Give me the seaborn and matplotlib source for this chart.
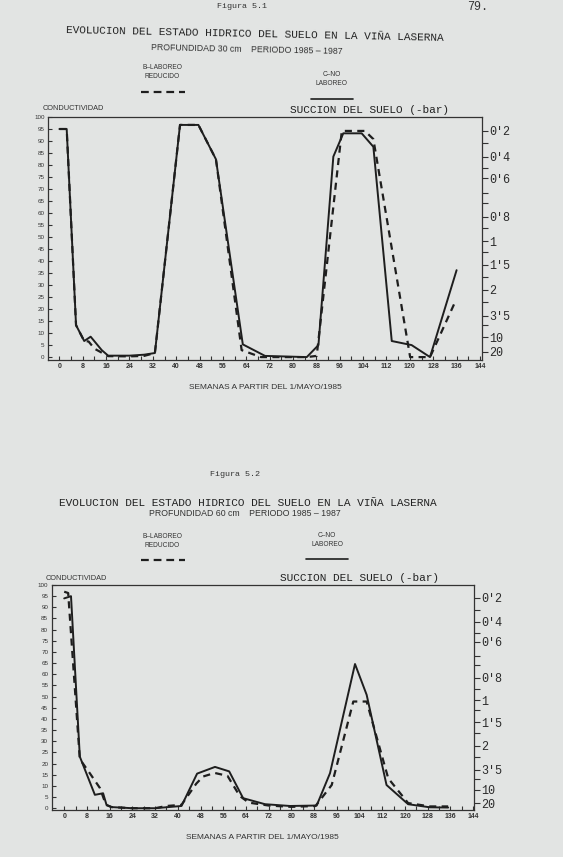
import matplotlib
matplotlib.use("Agg")
import matplotlib.pyplot as plt
from matplotlib.lines import Line2D
import seaborn as sns
import pandas as pd

# ---- data (conductividad, 0-100) ----
# Figura 5.1  profundidad 30 cm
weeks_b30 = [0, 2.5, 5.7, 8.5, 10.0, 12.0, 16.7, 24, 29, 32.7, 41.3, 47.6, 53.6, 62.4, 69.0,
             84.7, 88.1, 96.7, 104.6, 107.5, 120.1, 126.9, 135.5]
cond_b30 = [95, 95, 13.3, 6.7, 6.5, 3.5, 0.4, 0.3, 0.5, 1.7, 96.7, 96.7, 82.4, 2.9, 0.0,
            0.0, 0.5, 94.2, 94.2, 90.8, 0.0, 0.0, 23.0]
weeks_c30 = [0, 2.5, 5.7, 8.5, 10.7, 14.5, 16.7, 24, 29, 32.7, 41.3, 47.6, 53.6, 62.8, 70.4,
             84.7, 88.7, 93.8, 97.2, 103.5, 107.5, 113.8, 120.6, 126.9, 136]
cond_c30 = [95, 95, 13.3, 6.7, 8.5, 2.9, 0.6, 0.6, 1.0, 1.7, 96.7, 96.7, 82.4, 5.3, 0.5,
            0.0, 5.0, 83.5, 93.2, 93.2, 87.6, 6.7, 5.0, 0.0, 36.2]

# Figura 5.2  profundidad 60 cm
weeks_b60 = [0, 1.4, 5.5, 9.0, 12.6, 14.7, 16.7, 24, 32, 36, 41.3, 46.5, 48.9, 53, 57.5,
             61.8, 65, 72, 80, 88.5, 94.2, 101.8, 106.5, 114.1, 121.1, 128.8, 135.2]
cond_b60 = [97, 96.4, 22, 15.7, 9, 1.5, 0.5, 0, 0, 1, 1.5, 11, 14.2, 15.8, 14.5,
            5.5, 2.5, 1.2, 0.6, 1, 10.4, 47.8, 47.8, 13.4, 2.3, 0.8, 0.8]
weeks_c60 = [0, 2.4, 5.5, 10.8, 13.7, 14.9, 16.7, 24, 32, 41.3, 46.8, 53.1, 58.1, 63.0,
             70.7, 79.5, 88.9, 93.6, 102.4, 106.5, 113.5, 121.1, 128.8, 135.2]
cond_c60 = [94, 95, 23.1, 6.0, 6.7, 1.5, 0.5, 0, 0, 1, 15.5, 18.5, 16.5, 4.5,
            1.8, 1, 1.2, 15.7, 64.6, 50.8, 10.4, 1.8, 0.4, 0.3]

# right hand scale: suction (-bar) and where it sits on the conductivity scale
suction_labels = ["0'2", "0'4", "0'6", "0'8", "1", "1'5", "2", "3'5", "10", "20"]
suction_at = [94.3, 83.5, 74.5, 58.5, 48.3, 38.5, 28, 17.2, 8.2, 2.2]
suction_minor = [89, 78.6, 68.2, 64, 53.6, 43.9, 33.5, 23.1, 13.3]

week_ticks = list(range(0, 145, 8))
cond_ticks = list(range(0, 101, 5))

PAPER = "#e2e4e3"
INK = "#1e1e1e"
MONO = ["Liberation Mono", "DejaVu Sans Mono"]
SANS = ["Liberation Sans", "DejaVu Sans"]

sns.set_theme(style="white")
plt.rcParams["font.family"] = SANS

W, H = 563, 857


def fx(px):
    return px / W


def fy(py):
    return 1 - py / H


def draw_panel(ax, wb, vb, wc, vc, xlim, ylim):
    df_b = pd.DataFrame({"semana": wb, "cond": vb})
    df_c = pd.DataFrame({"semana": wc, "cond": vc})
    sns.lineplot(data=df_c, x="semana", y="cond", ax=ax, color=INK, linewidth=1.4,
                 estimator=None, sort=False)
    sns.lineplot(data=df_b, x="semana", y="cond", ax=ax, color=INK, linewidth=1.6,
                 linestyle=(0, (3.2, 2.4)), estimator=None, sort=False)
    ax.set_facecolor("none")
    ax.set_xlim(*xlim)
    ax.set_ylim(*ylim)
    ax.set_xticks(week_ticks)
    ax.set_xticks(list(range(4, 145, 8)), minor=True)
    ax.set_xticklabels([str(t) for t in week_ticks], fontsize=5, fontweight="bold", color="#333")
    ax.set_yticks(cond_ticks)
    ax.set_yticklabels([str(t) for t in cond_ticks], fontsize=4.5, color="#333")
    ax.tick_params(axis="both", which="both", direction="in", length=3, width=0.8,
                   color="#333", pad=2.5, bottom=True, left=True)
    ax.set_ylabel("")
    ax.set_xlabel("SEMANAS A PARTIR DEL 1/MAYO/1985", fontsize=6, color="#333", labelpad=10)
    for s in ax.spines.values():
        s.set_color("#333")
        s.set_linewidth(0.9)
        s.set_visible(True)

    tw = ax.twinx()
    tw.set_ylim(*ylim)
    tw.set_yticks(suction_at)
    tw.set_yticklabels(suction_labels, family=MONO, fontsize=8.5, color="#2a2a2a")
    tw.set_yticks(suction_minor, minor=True)
    tw.tick_params(axis="y", which="both", direction="out", length=4, width=0.8,
                   color="#333", pad=1, right=True)
    tw.grid(False)
    for s in tw.spines.values():
        s.set_visible(False)
    ax.grid(False)


fig = plt.figure(figsize=(W / 100, H / 100), dpi=100, facecolor=PAPER)

ax1 = fig.add_axes([fx(48), fy(359.5), fx(482) - fx(48), fy(117) - fy(359.5)])
draw_panel(ax1, weeks_b30, cond_b30, weeks_c30, cond_c30, (-3.9, 144.7), (-1, 100))

ax2 = fig.add_axes([fx(51.7), fy(810), fx(474) - fx(51.7), fy(585) - fy(810)])
draw_panel(ax2, weeks_b60, cond_b60, weeks_c60, cond_c60, (-4.4, 144.3), (-0.8, 100))

# page headers
fig.text(fx(242), fy(7), "Figura 5.1", family=MONO, fontsize=6, ha="center", va="center", color="#333")
fig.text(fx(478), fy(7), "79.", family=MONO, fontsize=8.5, ha="center", va="center", color="#333")
fig.text(fx(235), fy(475), "Figura 5.2", family=MONO, fontsize=6, ha="center", va="center", color="#333")

# block headings (y of title, subtitle, legend texts, legend sample, axis titles)
blocks = [
    (255, 34, 247, 50, -1.2, "PROFUNDIDAD 30 cm    PERIODO 1985 \u2013 1987",
     162.5, 68, 92, 332, 75, 99, 73, 108, 369, 110),
    (248, 503, 245, 513, 0, "PROFUNDIDAD 60 cm    PERIODO 1985 \u2013 1987",
     162.5, 537, 560, 327, 536, 559, 76, 578, 360, 578),
]
for (tx, ty, sx, sy, rot, sub, bx, by, bly, cx, cy, cly, kx, ky, ux, uy) in blocks:
    fig.text(fx(tx), fy(ty), "EVOLUCION DEL ESTADO HIDRICO DEL SUELO EN LA VI\u00d1A LASERNA",
             family=MONO, fontsize=8, ha="center", va="center", rotation=rot, color="#222")
    fig.text(fx(sx), fy(sy), sub, fontsize=6.3, ha="center", va="center", rotation=rot, color="#333")
    fig.text(fx(bx), fy(by + 4), "B\u2013LABOREO\nREDUCIDO", fontsize=4.8, ha="center",
             va="center", linespacing=1.5, color="#333")
    fig.text(fx(cx), fy(cy + 4), "C\u2013NO\nLABOREO", fontsize=4.8, ha="center",
             va="center", linespacing=1.5, color="#333")
    fig.add_artist(Line2D([fx(bx - 21), fx(bx + 22)], [fy(bly), fy(bly)], transform=fig.transFigure,
                          color=INK, linewidth=1.6, linestyle=(0, (3.5, 2.2))))
    fig.add_artist(Line2D([fx(cx - 21), fx(cx + 21)], [fy(cly), fy(cly)], transform=fig.transFigure,
                          color=INK, linewidth=1.2))
    fig.text(fx(kx), fy(ky), "CONDUCTIVIDAD", fontsize=5.3, ha="center", va="center", color="#333")
    fig.text(fx(ux), fy(uy), "SUCCION DEL SUELO (-bar)", family=MONO, fontsize=8,
             ha="center", va="center", color="#222")

fig.savefig("out.png", dpi=100, facecolor=fig.get_facecolor())
